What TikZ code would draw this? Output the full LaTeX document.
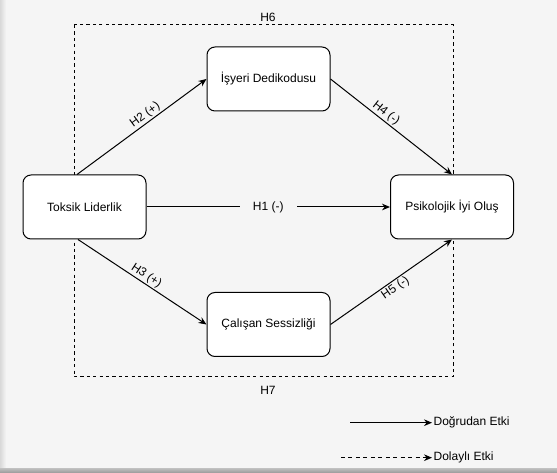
\documentclass[tikz,border=0pt]{standalone}
\usepackage{fontspec}
\setmainfont{Liberation Sans}
\usetikzlibrary{arrows.meta,calc}
\definecolor{bgc}{HTML}{F5F5F5}
\begin{document}
\begin{tikzpicture}[x=0.75pt,y=-0.75pt,
  font=\fontsize{9pt}{11pt}\selectfont,
  box/.style={draw=black,fill=white,rounded corners=6pt,line width=0.75pt,minimum width=92.25pt,minimum height=48pt,inner sep=2pt},
  conn/.style={line width=0.75pt,-{Stealth[length=6pt,width=5pt]}},
  dsh/.style={line width=0.75pt,dash pattern=on 2.4pt off 2.4pt},
  lbl/.style={sloped,inner sep=1pt}]
\useasboundingbox (0,0) rectangle (557,473);
\fill[bgc] (0,0) rectangle (557,473);
\shade[left color=gray!30,right color=bgc] (0,0) rectangle (6,473);
\shade[top color=gray!55,bottom color=gray!80] (0,469) rectangle (557,473);
% dashed frame
\draw[dsh] (74,25) rectangle (453,377);
\node (h6) at (268,17) {H6};
\node (h7) at (268,390) {H7};
% boxes
\node[box] (isy) at (268.5,79) {İşyeri Dedikodusu};
\node[box] (tl) at (84.5,207) {Toksik Liderlik};
\node[box] (pio) at (452,207) {Psikolojik İyi Oluş};
\node[box] (cs) at (268.5,324.5) {Çalışan Sessizliği};
% connectors
\draw[conn] ($(tl.north)+(-7.5,0)$) -- node[lbl,above,pos=0.56] {H2 (+)} (isy.west);
\draw[conn] ($(tl.south)+(-6.5,0)$) -- node[lbl,above,pos=0.5] {H3 (+)} (cs.west);
\draw[conn] (isy.east) -- node[lbl,above,pos=0.42] {H4 (-)} (pio.north);
\draw[conn] (cs.east) -- node[lbl,below,pos=0.5] {H5 (-)} (pio.south);
\draw[conn] (tl.east) -- node[fill=bgc,inner xsep=10pt,inner ysep=2pt] {H1 (-)} (pio.west);
% legend
\coordinate (l1a) at (350,422.7);
\coordinate (l1b) at (432,422.7);
\coordinate (l2a) at (341,457.7);
\coordinate (l2b) at (432,457.7);
\draw[conn] (l1a) -- (l1b);
\draw[line width=0.75pt,dash pattern=on 3pt off 2.6pt,-{Stealth[length=6pt,width=5pt]}] (l2a) -- (l2b);
\node[anchor=west,inner sep=1pt] (t1) at (l1b) {Doğrudan Etki};
\node[anchor=west,inner sep=1pt] (t2) at (l2b) {Dolaylı Etki};
\end{tikzpicture}
\end{document}
